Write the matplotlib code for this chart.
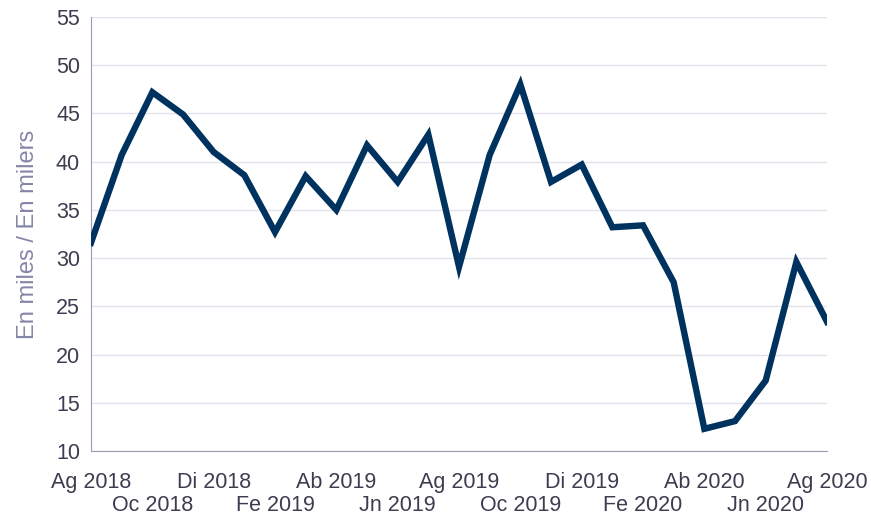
## monthly series, Ag 2018 - Ag 2020

import matplotlib
matplotlib.use('Agg')
import matplotlib.pyplot as plt

months = ['Ag 2018', 'Se 2018', 'Oc 2018', 'No 2018', 'Di 2018', 'En 2019',
          'Fe 2019', 'Mr 2019', 'Ab 2019', 'My 2019', 'Jn 2019', 'Jl 2019',
          'Ag 2019', 'Se 2019', 'Oc 2019', 'No 2019', 'Di 2019', 'En 2020',
          'Fe 2020', 'Mr 2020', 'Ab 2020', 'My 2020', 'Jn 2020', 'Jl 2020',
          'Ag 2020']
values = [31.6, 40.7, 47.2, 44.9, 41.0, 38.6, 32.7, 38.5, 35.0, 41.7, 37.9,
          42.8, 29.1, 40.7, 48.0, 37.9, 39.7, 33.2, 33.4, 27.5, 12.3, 13.1,
          17.3, 29.6, 23.4]
yticks = [10, 15, 20, 25, 30, 35, 40, 45, 50, 55]

plt.rcParams['font.family'] = ['Liberation Sans', 'DejaVu Sans']

col_line = '#00325f'
col_text = '#3d3d50'
col_lab = '#8585a8'
col_grid = '#e2e2ec'
col_spine = '#9a9ab4'
fs = 15.5

fig = plt.figure(figsize=(8.71, 5.22), dpi=100)
ax = fig.add_axes([0.1045, 0.136, 0.845, 0.8314])

x = list(range(len(months)))
ax.plot(x, values, color=col_line, linewidth=4.6, solid_joinstyle='miter',
        zorder=3)

ax.set_xlim(0, len(months) - 1)
ax.set_ylim(10, 55)
ax.set_yticks(yticks)
ax.yaxis.grid(True, color=col_grid, linewidth=1)
ax.set_axisbelow(True)

# labels every two months, alternate rows
row1 = x[0::4]
row2 = x[2::4]
ax.set_xticks(row1)
ax.set_xticklabels([months[i] for i in row1])
ax.set_xticks(row2, minor=True)
ax.set_xticklabels([months[i] for i in row2], minor=True)
ax.tick_params(axis='x', which='major', length=0, pad=23, labelsize=fs,
               colors=col_text)
ax.tick_params(axis='x', which='minor', length=0, pad=39, labelsize=fs,
               colors=col_text)
ax.tick_params(axis='y', length=0, pad=8, labelsize=fs, colors=col_text)
for lbl in ax.get_xticklabels() + ax.get_xticklabels(minor=True):
    lbl.set_verticalalignment('center')

for s in ['top', 'right']:
    ax.spines[s].set_visible(False)
ax.spines['left'].set_color(col_spine)
ax.spines['bottom'].set_color(col_spine)

ax.set_ylabel('En miles / En milers', color=col_lab, fontsize=17, labelpad=12)

fig.savefig('out.png', dpi=100)
